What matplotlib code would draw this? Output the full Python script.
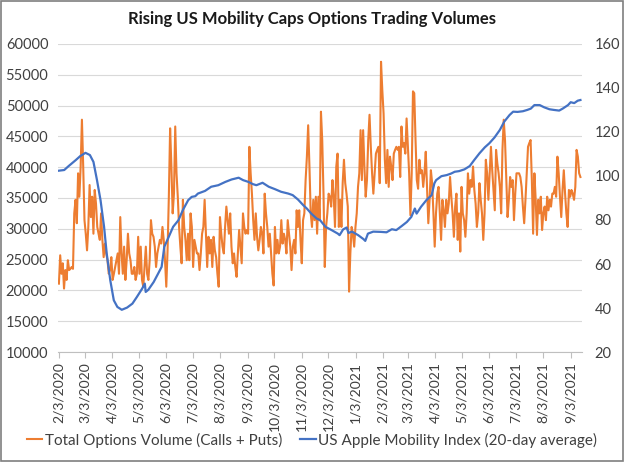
import matplotlib
matplotlib.use('Agg')
import matplotlib.pyplot as plt
import matplotlib.dates as mdates
import numpy as np
import pandas as pd
from matplotlib.patches import Rectangle


OUTPUT_PATH = 'out.png'
START_DATE = '2020-02-03'
END_DATE = '2021-09-14'

# total options volume, thousands of contracts, roughly one reading per trading day
VOLUME_K = [
    # Feb - early Jul 2020
    21.1, 25.7, 22.7, 24.4, 20.3, 23.3, 21.7, 24.9, 23.3, 23.5, 23.8, 23.5, 32.5, 34.7,
    30.9, 39.0, 35.2, 40.1, 47.7, 40.1, 31.4, 29.2, 26.5, 30.3, 37.1, 31.9, 35.2, 29.2,
    36.3, 34.1, 30.3, 29.2, 28.2, 32.5, 28.2, 25.4, 27.6, 26.0, 24.9, 22.7, 23.3, 25.4,
    21.7, 22.7, 23.8, 24.9, 26.0, 22.7, 31.9, 26.0, 22.7, 27.1, 21.7, 24.9, 29.2, 26.0,
    24.9, 22.7, 22.7, 23.8, 21.7, 22.7, 28.7, 22.7, 27.1, 21.7, 20.6, 23.8, 27.1, 22.7,
    21.7, 24.9, 31.4, 29.2, 28.7, 27.1, 23.8, 26.0, 27.1, 28.2, 27.6, 30.3, 28.2, 24.9,
    20.6, 26.5, 35.2, 46.3, 40.1, 32.5, 35.7, 46.6, 39.0, 35.2, 30.3, 27.1, 24.4, 34.7,
    30.3, 28.2, 24.9, 29.2, 24.9, 32.5, 30.3, 23.8, 28.2, 27.1, 26.0,
    # Jul - Nov 2020
    26.0, 23.3, 26.0, 29.2, 30.3, 34.7, 29.2, 23.8, 28.7, 26.0, 28.2, 23.8, 28.7, 26.5,
    25.4, 22.7, 20.6, 31.9, 29.2, 27.1, 26.0, 30.3, 33.6, 31.4, 29.2, 32.5, 27.1, 24.4,
    26.0, 23.8, 22.2, 26.0, 29.8, 27.1, 24.4, 32.5, 30.3, 29.2, 29.8, 29.2, 43.3, 39.0,
    35.7, 31.4, 28.2, 32.5, 28.7, 26.5, 28.2, 30.3, 29.2, 26.0, 35.7, 32.5, 30.3, 27.1,
    29.2, 26.0, 22.7, 20.8, 30.3, 26.0, 28.2, 26.0, 27.1, 31.4, 27.6, 29.2, 28.2, 26.0,
    31.4, 29.2, 27.1, 23.3, 27.1, 28.2, 26.0, 33.0, 30.3, 33.0, 28.2, 24.4, 31.4, 32.5,
    37.9, 41.7, 46.8, 40.1, 32.5, 30.3, 34.7, 31.4, 35.2, 29.2, 35.2, 31.4, 49.0, 44.4,
    35.7, 23.8, 30.3,
    # Dec 2020 - Apr 2021
    32.5, 35.7, 35.2, 33.6, 37.9, 35.2, 30.3, 40.1, 42.2, 30.3, 34.7, 30.3, 37.4, 41.2,
    37.4, 35.7, 33.6, 19.8, 26.0, 30.3, 29.2, 27.1, 30.3, 32.5, 36.8, 39.0, 46.0, 37.9,
    46.0, 40.1, 35.2, 37.9, 44.4, 48.5, 43.3, 39.0, 35.7, 39.0, 42.2, 42.8, 43.3, 37.4,
    57.1, 52.5, 48.7, 41.2, 37.4, 42.8, 36.8, 41.7, 40.1, 37.9, 42.2, 42.8, 43.3, 42.8,
    43.3, 38.4, 46.6, 43.3, 43.9, 42.2, 47.9, 43.3, 39.0, 32.2, 39.0, 52.3, 52.0, 44.4,
    37.9, 36.5, 41.2, 39.0, 39.5, 36.8, 39.0, 42.5, 36.8, 30.9, 34.7, 39.5, 37.4, 32.5,
    27.1, 32.5, 35.7, 36.8, 32.5, 28.2, 34.7, 33.0, 30.3, 34.7, 32.5, 34.1, 38.4, 35.2,
    32.5, 28.7, 33.6, 35.7,
    # May - Sep 2021
    28.2, 32.5, 26.3, 36.8, 32.5, 31.4, 28.7, 32.5, 39.0, 35.7, 37.9, 36.8, 40.1, 36.3,
    34.1, 30.3, 32.5, 37.4, 34.7, 32.5, 28.2, 32.5, 41.2, 39.0, 34.7, 39.0, 43.3, 39.5,
    36.3, 33.0, 42.8, 40.6, 39.0, 36.8, 32.5, 42.8, 47.7, 44.4, 37.9, 31.9, 34.7, 38.4,
    36.8, 37.9, 31.4, 35.7, 39.0, 39.0, 39.0, 38.4, 36.8, 33.6, 30.9, 34.7, 39.0, 43.3,
    43.9, 44.4, 37.9, 29.2, 39.0, 34.7, 29.0, 34.7, 32.5, 35.2, 29.8, 32.5, 33.6, 31.4,
    35.2, 33.0, 34.7, 33.6, 35.7, 35.7, 36.8, 35.2, 41.7, 39.0, 35.2, 31.9, 36.3, 39.5,
    35.7, 32.5, 30.3, 36.3, 35.2, 36.3, 35.7, 34.7, 36.8, 42.8, 41.7, 39.0, 38.4,
]

# US Apple mobility index, 20-day average (read at these dates)
MOBILITY_DATES = [
    '2020-02-03', '2020-02-09', '2020-02-14', '2020-02-22', '2020-02-27', '2020-03-04',
    '2020-03-09', '2020-03-13', '2020-03-17', '2020-03-21', '2020-03-25', '2020-03-28',
    '2020-04-01', '2020-04-05', '2020-04-09', '2020-04-14', '2020-04-20', '2020-04-26',
    '2020-05-01', '2020-05-07', '2020-05-10', '2020-05-11', '2020-05-14', '2020-05-20',
    '2020-05-25', '2020-05-29', '2020-06-01', '2020-06-06', '2020-06-11', '2020-06-17',
    '2020-06-22', '2020-06-28', '2020-07-02', '2020-07-06', '2020-07-09', '2020-07-17',
    '2020-07-24', '2020-08-01', '2020-08-09', '2020-08-16', '2020-08-24', '2020-08-29',
    '2020-09-04', '2020-09-09', '2020-09-13', '2020-09-20', '2020-09-27', '2020-10-04',
    '2020-10-11', '2020-10-19', '2020-10-24', '2020-10-30', '2020-11-05', '2020-11-09',
    '2020-11-14', '2020-11-20', '2020-11-24', '2020-11-30', '2020-12-07', '2020-12-14',
    '2020-12-16', '2020-12-20', '2020-12-24', '2020-12-26', '2020-12-30', '2021-01-06',
    '2021-01-12', '2021-01-14', '2021-01-17', '2021-01-23', '2021-01-31', '2021-02-07',
    '2021-02-13', '2021-02-18', '2021-02-24', '2021-03-02', '2021-03-07', '2021-03-11',
    '2021-03-13', '2021-03-18', '2021-03-24', '2021-03-30', '2021-04-02', '2021-04-04',
    '2021-04-10', '2021-04-16', '2021-04-21', '2021-04-25', '2021-04-30', '2021-05-06',
    '2021-05-12', '2021-05-17', '2021-05-23', '2021-05-29', '2021-06-03', '2021-06-09',
    '2021-06-15', '2021-06-20', '2021-06-26', '2021-06-30', '2021-07-05', '2021-07-11',
    '2021-07-16', '2021-07-20', '2021-07-24', '2021-07-30', '2021-08-04', '2021-08-10',
    '2021-08-15', '2021-08-21', '2021-08-25', '2021-08-31', '2021-09-03', '2021-09-07',
    '2021-09-11', '2021-09-14',
]
MOBILITY = [
    102.4, 102.7, 104.5, 107.2, 109.0, 110.5,
    109.5, 106.4, 98.1, 89.0, 76.9, 64.7,
    52.6, 43.5, 40.5, 39.2, 40.2, 42.0,
    45.0, 48.8, 51.1, 47.3, 48.3, 51.8,
    55.6, 58.7, 67.8, 72.3, 76.9, 79.9,
    84.5, 89.0, 90.5, 90.8, 92.0, 93.2,
    95.1, 95.8, 97.3, 98.4, 99.2, 98.1,
    97.3, 96.3, 95.8, 96.9, 95.1, 94.0,
    92.8, 92.0, 91.3, 89.3, 86.7, 85.2,
    82.9, 80.7, 79.9, 76.9, 75.4, 73.8,
    73.1, 75.7, 76.6, 74.1, 74.7, 73.1,
    71.3, 70.5, 73.8, 74.7, 74.6, 74.4,
    75.8, 75.4, 77.2, 79.1, 81.4, 85.2,
    82.9, 86.0, 89.0, 91.3, 96.6, 98.1,
    99.9, 100.4, 101.1, 101.9, 102.2, 103.0,
    104.5, 107.2, 110.3, 113.0, 114.8, 117.5,
    120.9, 124.7, 127.7, 129.2, 129.1, 129.4,
    130.0, 130.6, 132.2, 132.2, 131.2, 130.3,
    130.0, 129.7, 130.6, 132.2, 133.5, 133.1,
    134.2, 134.5,
]

TITLE = 'Rising US Mobility Caps Options Trading Volumes'
VOLUME_LABEL = 'Total Options Volume (Calls + Puts)'
MOBILITY_LABEL = 'US Apple Mobility Index (20-day average)'

ORANGE = '#ED7D31'
BLUE = '#4472C4'
TEXT = '#404040'

plt.rcParams['font.family'] = ['Lato', 'DejaVu Sans']

volume = np.array(VOLUME_K) * 1000
volume_dates = pd.date_range(START_DATE, END_DATE, periods=len(volume))
mobility_dates = pd.to_datetime(MOBILITY_DATES)
month_ticks = pd.date_range(START_DATE, '2021-09-03', freq=pd.DateOffset(months=1))

fig = plt.figure(figsize=(6.24, 4.62), dpi=100)
ax = fig.add_axes([0.093, 0.238, 0.84, 0.667])
ax2 = ax.twinx()

ax.plot(volume_dates, volume, color=ORANGE, linewidth=1.5, label=VOLUME_LABEL)
ax2.plot(mobility_dates, MOBILITY, color=BLUE, linewidth=1.6, label=MOBILITY_LABEL)

ax.set_ylim(10000, 60000)
ax.set_yticks(np.arange(10000, 60001, 5000))
ax2.set_ylim(20, 160)
ax2.set_yticks(np.arange(20, 161, 20))
ax.set_xlim(pd.Timestamp('2020-02-02'), pd.Timestamp('2021-09-16'))

ax.set_xticks(month_ticks)
ax.xaxis.set_major_formatter(
    matplotlib.ticker.FuncFormatter(
        lambda v, pos: (lambda d: f'{d.month}/{d.day}/{d.year}')(mdates.num2date(v))
    )
)
ax.tick_params(axis='x', rotation=90, labelsize=10, colors=TEXT, length=4,
               width=0.8, color='#bfbfbf', pad=3)
ax.tick_params(axis='y', labelsize=10.5, colors=TEXT, length=0, pad=7)
ax2.tick_params(axis='y', labelsize=10.5, colors=TEXT, length=0, pad=9)

ax.grid(axis='y', color='#d9d9d9', linewidth=0.8)
ax.set_axisbelow(True)
for a in (ax, ax2):
    for side in ('top', 'left', 'right', 'bottom'):
        a.spines[side].set_visible(False)
ax.spines['bottom'].set_visible(True)
ax.spines['bottom'].set_color('#bfbfbf')
ax.spines['bottom'].set_linewidth(0.8)

fig.text(0.5, 0.958, TITLE, ha='center', va='center', fontsize=12,
         fontweight='bold', color='#1a1a1a')

handles = ax.get_lines() + ax2.get_lines()
fig.legend(handles, [h.get_label() for h in handles], loc='center',
           bbox_to_anchor=(0.5, 0.047), ncol=2, frameon=False, fontsize=11,
           handlelength=1.0, handletextpad=0.15, columnspacing=1.2,
           labelcolor=TEXT)

fig.patches.append(Rectangle((0.002, 0.002), 0.996, 0.996, transform=fig.transFigure,
                             fill=False, edgecolor='#7f7f7f', linewidth=1.2))

fig.savefig(OUTPUT_PATH, dpi=100)
